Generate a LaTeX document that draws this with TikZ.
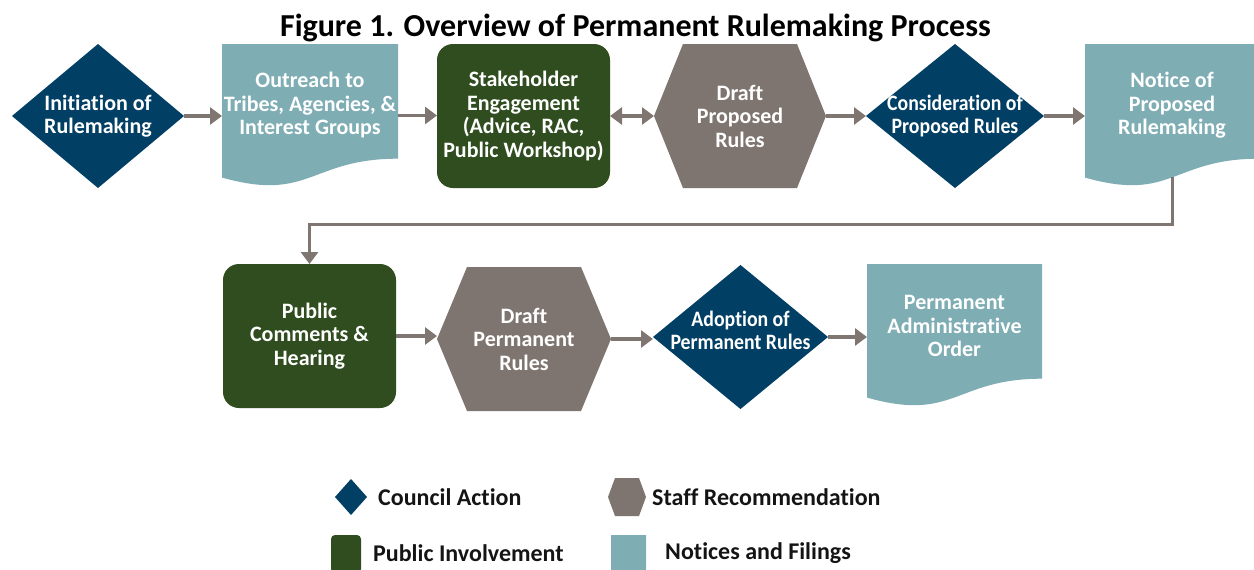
\documentclass[tikz,border=0pt]{standalone}
\usepackage{graphicx}
\usepackage{fontspec}
\setmainfont{Carlito}[Ligatures=NoCommon]
\usetikzlibrary{arrows.meta,calc}
\definecolor{cblue}{RGB}{2,63,101}
\definecolor{cteal}{RGB}{126,173,180}
\definecolor{cgreen}{RGB}{48,77,31}
\definecolor{cgray}{RGB}{127,117,112}
\definecolor{carrow}{RGB}{128,118,113}
\definecolor{ctext}{RGB}{20,20,20}
\newcommand{\nrw}[1]{\scalebox{0.9}[1]{#1}}
\tikzset{
  base/.style={inner sep=0pt, outer sep=0pt, align=center, text=white,
    font=\fontsize{22}{23.5}\selectfont\bfseries},
  cdiam/.style={base, path picture={\fill[cblue]
    (path picture bounding box.west) -- (path picture bounding box.north) --
    (path picture bounding box.east) -- (path picture bounding box.south) -- cycle;}},
  chexa/.style={base, path picture={\fill[cgray]
    (path picture bounding box.west) --
    ([xshift=#1]path picture bounding box.north west) --
    ([xshift=-#1]path picture bounding box.north east) --
    (path picture bounding box.east) --
    ([xshift=-#1]path picture bounding box.south east) --
    ([xshift=#1]path picture bounding box.south west) -- cycle;}},
  cdoc/.style={base, path picture={\fill[cteal]
    (path picture bounding box.north west) -- (path picture bounding box.north east) --
    ($(path picture bounding box.north east)!0.802!(path picture bounding box.south east)$)
    .. controls ($(path picture bounding box.north)!0.802!(path picture bounding box.south)$)
    and ($(path picture bounding box.north)!1.1075!(path picture bounding box.south)$) ..
    ($(path picture bounding box.north west)!0.934!(path picture bounding box.south west)$)
    -- cycle;}},
  cbox/.style={base, fill=cgreen, rounded corners=#1},
  conn/.style={draw=carrow, line width=3.5pt, -{Triangle[length=12pt,width=17pt]}},
  dconn/.style={draw=carrow, line width=3.5pt, {Triangle[length=12pt,width=17pt]}-{Triangle[length=12pt,width=17pt]}},
  legtext/.style={anchor=west, inner sep=0pt, text=ctext, font=\fontsize{24}{28}\selectfont\bfseries},
}
\begin{document}
\begin{tikzpicture}[x=1pt,y=-1pt]
\useasboundingbox (0,0) rectangle (1254,570);
\clip (0,0) rectangle (1254,570);
\fill[white] (0,0) rectangle (1254,570);

\node[anchor=base, inner sep=0pt, text=black, font=\fontsize{32}{36}\selectfont\bfseries] (title) at (635.5,36) {Figure 1. Overview of Permanent Rulemaking Process};

% row 1
\node[cdiam, minimum width=172pt, minimum height=144pt] (d1) at (98,116) {Initiation of\\Rulemaking};
\node[cdoc, minimum width=176pt, minimum height=143pt] (doc1) at (310,115.5) {Outreach to\\Tribes, Agencies, \&\\Interest Groups\\\mbox{}};
\node[cbox=16pt, minimum width=173pt, minimum height=144pt] (g1) at (523.5,116) {Stakeholder\\Engagement\\(Advice, RAC,\\Public Workshop)};
\node[chexa=29pt, minimum width=172pt, minimum height=144pt] (h1) at (740,116) {Draft\\Proposed\\Rules};
\node[cdiam, minimum width=178pt, minimum height=144pt] (d2) at (955,116) {\nrw{Consideration of}\\\nrw{Proposed Rules}};
\node[cdoc, minimum width=174pt, minimum height=143pt] (doc2) at (1172,115.5) {Notice of\\Proposed\\Rulemaking\\\mbox{}};

% row 2
\node[cbox=16pt, minimum width=173pt, minimum height=144pt] (g2) at (309.5,336) {Public\\Comments \&\\Hearing};
\node[chexa=30pt, minimum width=174pt, minimum height=144pt] (h2) at (524,339) {Draft\\Permanent\\Rules};
\node[cdiam, minimum width=175pt, minimum height=144pt] (d3) at (740.5,337) {\nrw{Adoption of}\\\nrw{Permanent Rules}\\[-10pt]\mbox{}};
\node[cdoc, minimum width=175pt, minimum height=143pt] (doc3) at (954.5,335.5) {Permanent\\Administrative\\Order\\[-5pt]\mbox{}};

% connectors
\draw[conn] (d1.east) -- (d1.east -| doc1.west);
\draw[conn] (doc1.east) -- (doc1.east -| g1.west);
\draw[dconn] (g1.east) -- (h1.west);
\draw[conn] (h1.east) -- (d2.west);
\draw[conn] (d2.east) -- (d2.east -| doc2.west);
\draw[conn, line width=3pt] ([yshift=10pt]doc2.south) |- ([yshift=40pt]g2.north) -- (g2.north);
\draw[conn] (g2.east) -- (g2.east -| h2.west);
\draw[conn] (h2.east) -- (h2.east -| d3.west);
\draw[conn] (d3.east) -- (d3.east -| doc3.west);

% legend
\node[cdiam, minimum width=32pt, minimum height=36pt] (ld) at (351,497) {};
\node[legtext] (ldt) at (378,497) {Council Action};
\node[chexa=7pt, minimum width=38pt, minimum height=38pt] (lh) at (627,497) {};
\node[legtext] (lht) at (652,497) {Staff Recommendation};
\node[cbox=4pt, minimum width=30pt, minimum height=38pt] (lg) at (346,554) {};
\node[legtext] (lgt) at (373,553) {Public Involvement};
\node[cdoc, minimum width=35pt, minimum height=44pt] (ldoc) at (628.5,557) {};
\node[legtext] (ldoct) at (665,553) {Notices and Filings};
\end{tikzpicture}
\end{document}
